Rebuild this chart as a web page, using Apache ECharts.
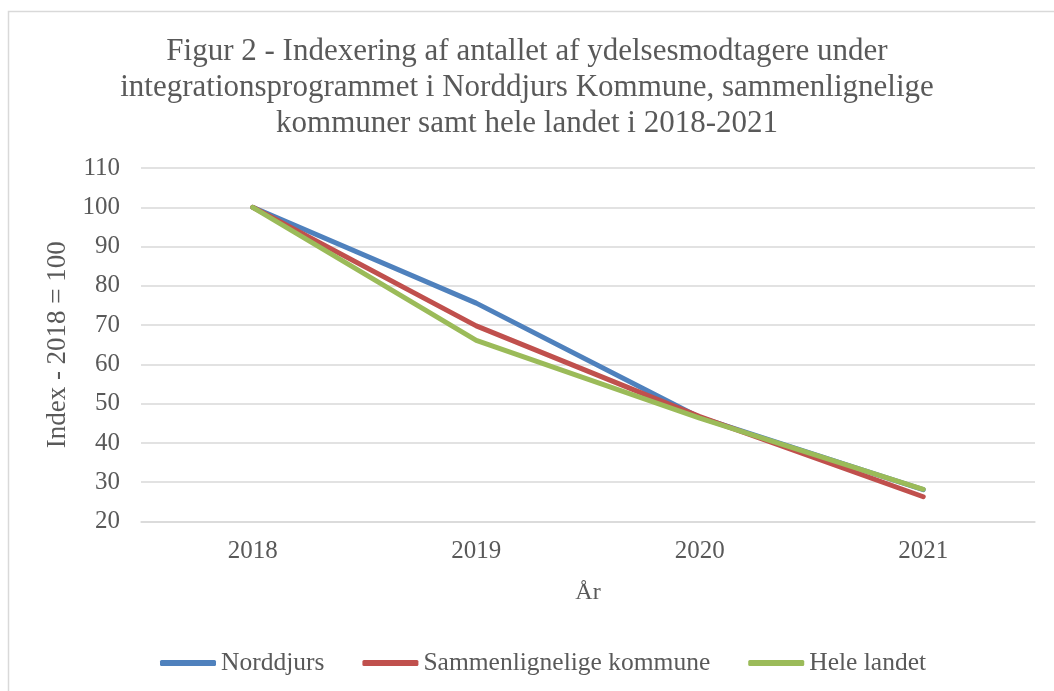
<!DOCTYPE html>
<html><head><meta charset="utf-8">
<script src="https://cdn.jsdelivr.net/npm/echarts@6/dist/echarts.min.js"></script>
<style>html,body{margin:0;padding:0;background:#fff}#c{width:1054px;height:691px}</style>
</head><body><div id="c"></div>
<script>
const categories = ['2018', '2019', '2020', '2021'];
const norddjurs = [100, 75.6, 46.5, 28.1];
const sammenlignelige = [100, 69.8, 46.7, 26.3];
const heleLandet = [100, 66.1, 46.3, 28.2];
const seriesNames = ['Norddjurs', 'Sammenlignelige kommune', 'Hele landet'];
const colors = ['#4f81bd', '#c0504d', '#9bbb59'];
const titleText = 'Figur 2 - Indexering af antallet af ydelsesmodtagere under\nintegrationsprogrammet i Norddjurs Kommune, sammenlignelige\nkommuner samt hele landet i 2018-2021';

const font = 'Liberation Serif';
const chart = echarts.init(document.getElementById('c'));
const mk = (name, data, i) => ({
  name, type: 'line', data, symbol: 'none', z: 2 + i,
  lineStyle: { width: 5, color: colors[i], cap: 'round', join: 'round' },
  itemStyle: { color: colors[i] }
});
chart.setOption({
  animation: false,
  textStyle: { fontFamily: font },
  graphic: [{ type: 'rect', shape: { x: 8.5, y: 11.5, width: 1100, height: 800 }, style: { fill: 'none', stroke: '#d9d9d9', lineWidth: 1.5 }, silent: true }],
  title: {
    text: titleText, left: 'center', top: 29, padding: [5, 0, 5, 34],
    textStyle: { fontFamily: font, fontSize: 31, fontWeight: 'normal', color: '#595959', lineHeight: 36 }
  },
  grid: { left: 141, right: 19, top: 168, bottom: 169.5 },
  legend: {
    top: 645, left: 155, itemGap: 38, itemWidth: 56, itemHeight: 6, icon: 'roundRect',
    textStyle: { fontFamily: font, fontSize: 25.5, color: '#595959' },
    data: seriesNames
  },
  xAxis: {
    type: 'category', data: categories, boundaryGap: true,
    name: 'År', nameLocation: 'middle', nameGap: 59,
    nameTextStyle: { fontFamily: font, fontSize: 24, color: '#595959' },
    axisLine: { lineStyle: { color: '#d9d9d9', width: 1.5 } },
    axisTick: { show: false },
    axisLabel: { fontFamily: font, fontSize: 25, color: '#595959', margin: 17 }
  },
  yAxis: {
    type: 'value', min: 20, max: 110, interval: 10,
    name: 'Index - 2018 = 100', nameLocation: 'middle', nameGap: 70,
    nameTextStyle: { fontFamily: font, fontSize: 27, color: '#595959' },
    axisLine: { show: false }, axisTick: { show: false },
    axisLabel: { fontFamily: font, fontSize: 25, color: '#595959', margin: 21 },
    splitLine: { lineStyle: { color: '#d9d9d9', width: 1.5 } }
  },
  series: [mk(seriesNames[0], norddjurs, 0), mk(seriesNames[1], sammenlignelige, 1), mk(seriesNames[2], heleLandet, 2)]
});
</script></body></html>
